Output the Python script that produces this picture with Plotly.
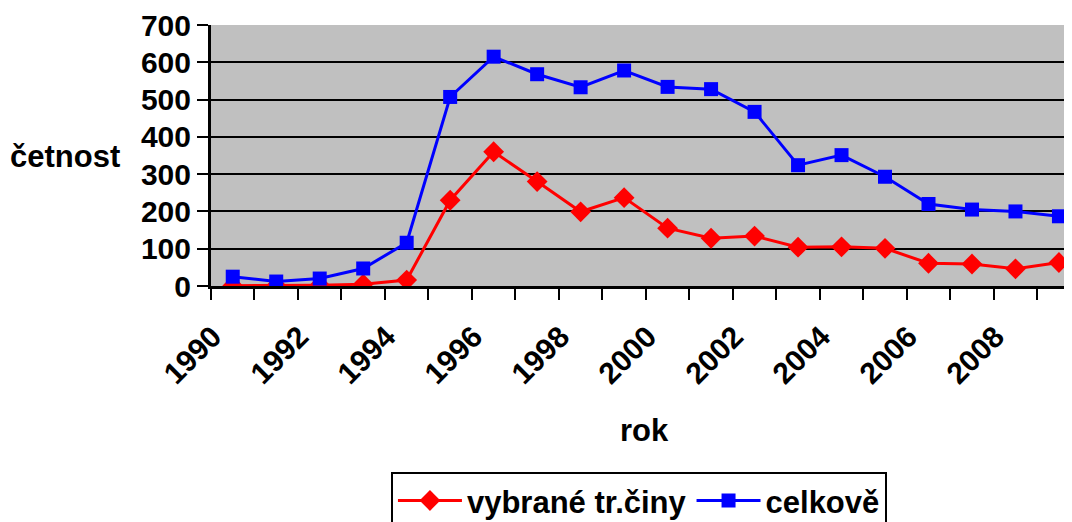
import plotly.graph_objects as go

years = list(range(1990, 2010))
vybrane = [1, 1, 2, 5, 16, 230, 360, 280, 199, 237, 155, 128, 134, 104, 105, 101, 61, 59, 46, 63]
celkove = [25, 12, 20, 47, 116, 507, 615, 568, 533, 578, 534, 528, 467, 324, 351, 293, 220, 205, 200, 187]
xtick_vals = list(range(1990, 2009, 2))
xtick_text = [str(v) for v in xtick_vals]
ytick_vals = list(range(0, 701, 100))
boundaries = [1989.5 + i for i in range(21)]

FONT = "Liberation Sans, Arial, sans-serif"

fig = go.Figure()
fig.add_trace(go.Scatter(
    x=years, y=vybrane, name="vybrané tr.činy", mode="lines+markers",
    line=dict(color="#FF0000", width=3),
    marker=dict(symbol="diamond", size=16, color="#FF0000"),
))
fig.add_trace(go.Scatter(
    x=years, y=celkove, name="celkově", mode="lines+markers",
    line=dict(color="#0000FF", width=3),
    marker=dict(symbol="square", size=14, color="#0000FF"),
))

fig.update_layout(
    width=1064, height=514,
    margin=dict(l=203, r=0, t=17, b=236, autoexpand=False),
    paper_bgcolor="white", plot_bgcolor="#C0C0C0",
    font=dict(family=FONT, size=30, color="black", weight=700),
    showlegend=True,
    legend=dict(
        orientation="h", x=0.209, xanchor="left", y=-0.712, yanchor="top",
        bordercolor="black", borderwidth=2, bgcolor="white",
        font=dict(family=FONT, size=31, color="black", weight=700),
        itemwidth=64, tracegroupgap=0,
    ),
    annotations=[
        dict(text="četnost", xref="paper", yref="paper", x=-0.103, y=0.495,
             xanchor="right", yanchor="middle", showarrow=False,
             font=dict(family=FONT, size=31, color="black", weight=700)),
        dict(text="rok", xref="paper", yref="paper", x=0.504, y=-0.552,
             xanchor="center", yanchor="middle", showarrow=False,
             font=dict(family=FONT, size=31, color="black", weight=700)),
    ],
)

fig.update_xaxes(
    range=[1989.5, 2009.3], tickmode="array", tickvals=xtick_vals, ticktext=xtick_text,
    tickangle=-45, ticks="", showgrid=False, zeroline=False, automargin=False,
    showline=True, linecolor="black", linewidth=3,
    ticklabelshift=-20, ticklabelstandoff=18,
    minor=dict(tickmode="array", tickvals=boundaries, ticks="outside", ticklen=11,
               tickwidth=2, tickcolor="black", showgrid=False),
    tickfont=dict(family=FONT, size=30, color="black", weight=700),
)
fig.update_yaxes(
    range=[0, 700], tickmode="array", tickvals=ytick_vals, automargin=False,
    ticks="outside", ticklen=11, tickwidth=2, tickcolor="black",
    showgrid=True, gridcolor="black", gridwidth=2, zeroline=False,
    showline=True, linecolor="black", linewidth=3,
    tickfont=dict(family=FONT, size=30, color="black", weight=700),
)

fig.write_html("out.html")
